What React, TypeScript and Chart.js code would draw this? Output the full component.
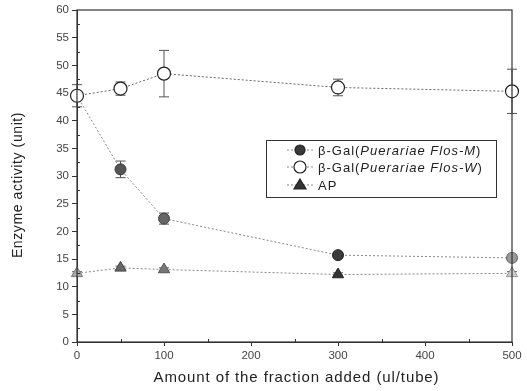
import React, { useEffect, useRef } from "react";
import { Chart, registerables } from "chart.js";

Chart.register(...registerables);

const xValues = [0, 50, 100, 300, 500];
const galW = [44.5, 45.8, 48.5, 46.0, 45.3];
const galWErr = [2.0, 1.2, 4.2, 1.5, 4.0];
const galM = [44.5, 31.2, 22.3, 15.7, 15.2];
const galMErr = [0, 1.5, 1.0, 0.5, 0.5];
const apValues = [12.4, 13.4, 13.1, 12.2, 12.4];
const apErr = [0.3, 0.3, 0.3, 0.3, 0.3];
const legendLabels = [
  ["β-Gal(", "Puerariae Flos-M", ")"],
  ["β-Gal(", "Puerariae Flos-W", ")"],
  ["AP", "", ""],
];
const xTitle = "Amount of the fraction added (ul/tube)";
const yTitle = "Enzyme activity (unit)";

const errors = [galMErr, galWErr, apErr];
const legendFill = ["#3a3a3a", "#fff", "#333"];
const FONT = "'Liberation Sans', Arial, sans-serif";

const errorBarPlugin = {
  id: "errorBars",
  beforeDatasetsDraw(chart: any) {
    const ctx = chart.ctx;
    const xs = chart.scales.x;
    const ys = chart.scales.y;
    ctx.save();
    ctx.strokeStyle = "#555";
    ctx.lineWidth = 1;
    chart.data.datasets.forEach((ds: any, i: number) => {
      const err = errors[i];
      ds.data.forEach((p: any, j: number) => {
        const e = err[j];
        if (!e) return;
        const x = xs.getPixelForValue(p.x);
        const y1 = ys.getPixelForValue(p.y + e);
        const y2 = ys.getPixelForValue(p.y - e);
        ctx.beginPath();
        ctx.moveTo(x, y1);
        ctx.lineTo(x, y2);
        ctx.moveTo(x - 5, y1);
        ctx.lineTo(x + 5, y1);
        ctx.moveTo(x - 5, y2);
        ctx.lineTo(x + 5, y2);
        ctx.stroke();
      });
    });
    ctx.restore();
  },
};

const framePlugin = {
  id: "frameAndLegend",
  afterDraw(chart: any) {
    const ctx = chart.ctx;
    const a = chart.chartArea;
    const xs = chart.scales.x;
    const ys = chart.scales.y;
    ctx.save();
    ctx.strokeStyle = "#333";
    ctx.lineWidth = 1.2;
    ctx.strokeRect(a.left, a.top, a.right - a.left, a.bottom - a.top);

    // minor ticks (inside)
    ctx.lineWidth = 1;
    ctx.beginPath();
    for (let v = 2.5; v < 60; v += 5) {
      const y = Math.round(ys.getPixelForValue(v)) + 0.5;
      ctx.moveTo(a.left, y);
      ctx.lineTo(a.left + 3, y);
    }
    for (let v = 50; v < 500; v += 100) {
      const x = Math.round(xs.getPixelForValue(v)) + 0.5;
      ctx.moveTo(x, a.bottom);
      ctx.lineTo(x, a.bottom - 3);
    }
    ctx.stroke();

    // axis titles
    ctx.fillStyle = "#222";
    ctx.textAlign = "center";
    ctx.textBaseline = "middle";
    (ctx as any).letterSpacing = "0.9px";
    ctx.font = `15px ${FONT}`;
    ctx.fillText(xTitle, (a.left + a.right) / 2 + 2, 378);
    ctx.save();
    ctx.translate(18, 185);
    ctx.rotate(-Math.PI / 2);
    (ctx as any).letterSpacing = "0.6px";
    ctx.font = `14px ${FONT}`;
    ctx.fillText(yTitle, 0, 0);
    ctx.restore();

    // legend box
    const bx = 266, by = 140, bw = 230, bh = 57;
    ctx.textAlign = "left";
    ctx.lineWidth = 1;
    ctx.strokeStyle = "#333";
    ctx.strokeRect(bx + 0.5, by + 0.5, bw, bh);
    const rows = [150, 167, 185];
    chart.data.datasets.forEach((ds: any, i: number) => {
      const y = rows[i];
      ctx.strokeStyle = "#888";
      ctx.setLineDash([2, 2]);
      ctx.beginPath();
      ctx.moveTo(287, y);
      ctx.lineTo(313, y);
      ctx.stroke();
      ctx.setLineDash([]);
      ctx.fillStyle = legendFill[i];
      ctx.strokeStyle = "#222";
      ctx.lineWidth = 1.2;
      ctx.beginPath();
      if (ds.pointStyle === "triangle") {
        ctx.moveTo(300, y - 6);
        ctx.lineTo(306, y + 4);
        ctx.lineTo(294, y + 4);
        ctx.closePath();
      } else {
        ctx.arc(300, y, ds.pointRadius - 0.5, 0, Math.PI * 2);
      }
      ctx.fill();
      ctx.stroke();
      const parts = legendLabels[i];
      let tx = 318;
      ctx.fillStyle = "#222";
      (ctx as any).letterSpacing = "1px";
      ctx.font = `13px ${FONT}`;
      ctx.fillText(parts[0], tx, y + 1);
      tx += ctx.measureText(parts[0]).width;
      ctx.font = `italic 13px ${FONT}`;
      ctx.fillText(parts[1], tx, y + 1);
      tx += ctx.measureText(parts[1]).width;
      ctx.font = `13px ${FONT}`;
      ctx.fillText(parts[2], tx, y + 1);
    });
    (ctx as any).letterSpacing = "0px";
    ctx.restore();
  },
};

const pts = (ys: number[]) => xValues.map((x, i) => ({ x, y: ys[i] }));

export default function App() {
  const ref = useRef<HTMLCanvasElement>(null);
  useEffect(() => {
    document.body.style.margin = "0";
    const chart = new Chart(ref.current!, {
      type: "scatter",
      data: {
        datasets: [
          {
            label: "β-Gal(Puerariae Flos-M)",
            data: pts(galM),
            order: 1,
            showLine: true,
            borderColor: "#888",
            borderWidth: 1,
            borderDash: [2, 2],
            pointStyle: "circle",
            pointRadius: 5.5,
            pointBackgroundColor: ["#4a4a4a", "#555", "#666", "#3a3a3a", "#999"],
            pointBorderColor: ["#222", "#333", "#444", "#222", "#666"],
            pointBorderWidth: 1,
            clip: false,
          } as any,
          {
            label: "β-Gal(Puerariae Flos-W)",
            data: pts(galW),
            order: 0,
            showLine: true,
            borderColor: "#666",
            borderWidth: 1,
            borderDash: [2, 2],
            pointStyle: "circle",
            pointRadius: 6.5,
            pointBackgroundColor: "#fff",
            pointBorderColor: "#222",
            pointBorderWidth: 1.2,
            clip: false,
          } as any,
          {
            label: "AP",
            data: pts(apValues),
            order: 2,
            showLine: true,
            borderColor: "#888",
            borderWidth: 1,
            borderDash: [2, 2],
            pointStyle: "triangle",
            pointRadius: 6.5,
            pointBackgroundColor: ["#aaa", "#666", "#777", "#333", "#ccc"],
            pointBorderColor: ["#777", "#444", "#555", "#222", "#999"],
            pointBorderWidth: 1,
            clip: false,
          } as any,
        ],
      },
      options: {
        animation: false,
        responsive: false,
        maintainAspectRatio: false,
        layout: { padding: { left: 0, right: 15, top: 10, bottom: 0 } },
        plugins: { legend: { display: false }, tooltip: { enabled: false } },
        scales: {
          x: {
            type: "linear",
            min: 0,
            max: 500,
            ticks: {
              stepSize: 100,
              color: "#444",
              padding: 3,
              font: { family: FONT, size: 11.5 },
            },
            grid: { drawOnChartArea: false, tickLength: 4, color: "#333" },
            border: { color: "#333" },
            title: { display: false },
            afterFit: (s: any) => {
              s.height = 49;
            },
          },
          y: {
            min: 0,
            max: 60,
            ticks: {
              stepSize: 5,
              color: "#444",
              padding: 3,
              font: { family: FONT, size: 11.5 },
            },
            grid: { drawOnChartArea: false, tickLength: 5, color: "#333" },
            border: { color: "#333" },
            title: { display: false },
            afterFit: (s: any) => {
              s.width = 77;
            },
          },
        },
      } as any,
      plugins: [errorBarPlugin, framePlugin],
    });
    return () => chart.destroy();
  }, []);
  return (
    <div style={{ width: 527, height: 391, background: "#fff" }}>
      <canvas ref={ref} width={527} height={391} style={{ display: "block" }} />
    </div>
  );
}
